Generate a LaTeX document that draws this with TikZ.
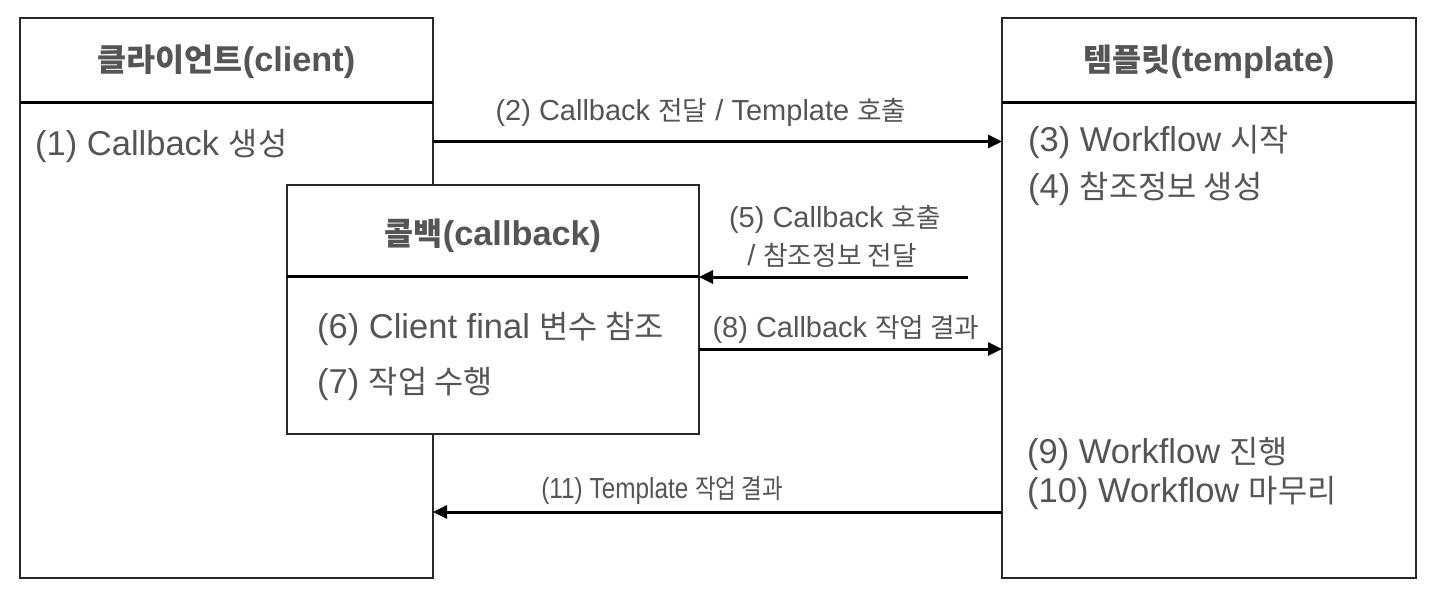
\documentclass[tikz,border=0pt]{standalone}
\usepackage{fontspec}
\usepackage{graphicx}
\setmainfont{Liberation Sans}
\newfontfamily\kr{Noto Sans CJK KR}[Scale=0.92]
\newcommand\K[1]{{\kr #1}}
\usetikzlibrary{arrows.meta}
\definecolor{txt}{RGB}{85,85,85}
\definecolor{frame}{RGB}{40,40,40}
\begin{document}
\begin{tikzpicture}[x=1pt,y=-1pt,
  box/.style={draw=frame, line width=1.3pt, fill=white, inner sep=0pt, outer sep=0pt},
  sep/.style={line width=3pt, draw=black},
  arr/.style={line width=3pt, draw=black, -{Triangle[length=14pt,width=13pt]}},
  body/.style={font=\fontsize{34.5}{40}\selectfont, text=txt, anchor=base west, inner sep=0pt},
  lab/.style={font=\fontsize{29}{34}\selectfont, text=txt, anchor=base, inner sep=0pt},
  ttl/.style={font=\fontsize{34.3}{40}\selectfont\bfseries, text=txt, anchor=base, inner sep=0pt}]
\useasboundingbox[fill=white] (0,0) rectangle (1438,594);
% boxes
\node[box, minimum width=413pt, minimum height=560pt] (client) at (226.5,298) {};
\node[box, minimum width=414pt, minimum height=560pt] (template) at (1209,298) {};
\draw[sep] (client.west |- 0,102) -- (client.east |- 0,102);
\draw[sep] (template.west |- 0,102) -- (template.east |- 0,102);
\node[box, minimum width=412pt, minimum height=249pt] (callback) at (493,309.5) {};
\draw[sep] (callback.west |- 0,276) -- (callback.east |- 0,276);
% titles
\node[ttl] (tc) at (226.5,72) {\K{클라이언트}(client)};
\node[ttl] (tt) at (1209,72) {\K{템플릿}(template)};
\node[ttl] (tb) at (493,245) {\K{콜백}(callback)};
% body texts
\node[body] (t1) at (35,155) {(1) Callback \K{생성}};
\node[body] (t3) at (1028,151) {(3) Workflow \K{시작}};
\node[body] (t4) at (1028,198) {(4) \K{참조정보 생성}};
\node[body] (t6) at (317,338) {(6) Client final \K{변수 참조}};
\node[body] (t7) at (317,393) {(7) \K{작업 수행}};
\node[body] (t9) at (1027,463) {(9) Workflow \K{진행}};
\node[body] (t10) at (1027,502) {(10) Workflow \K{마무리}};
% arrow labels
\node[lab] (l2) at (701,120) {(2) Callback \K{전달} / Template \K{호출}};
\node[lab] (l5a) at (835,227) {(5) Callback \K{호출}};
\node[lab] (l5b) at (832,265) {/ \K{참조정보 전달}};
\node[lab] (l8) at (846,337) {(8) Callback \K{작업 결과}};
\node[lab] (l11) at (662,498) {\scalebox{0.84}[1]{(11) Template \K{작업 결과}}};
% connectors
\coordinate (a5s) at (968,277);
\draw[arr] (client.east |- 0,141.5) -- (template.west |- 0,141.5);
\draw[arr] (a5s) -- (callback.east |- a5s);
\draw[arr] (callback.east |- 0,349) -- (template.west |- 0,349);
\draw[arr] (template.west |- 0,512) -- (client.east |- 0,512);
\end{tikzpicture}
\end{document}
